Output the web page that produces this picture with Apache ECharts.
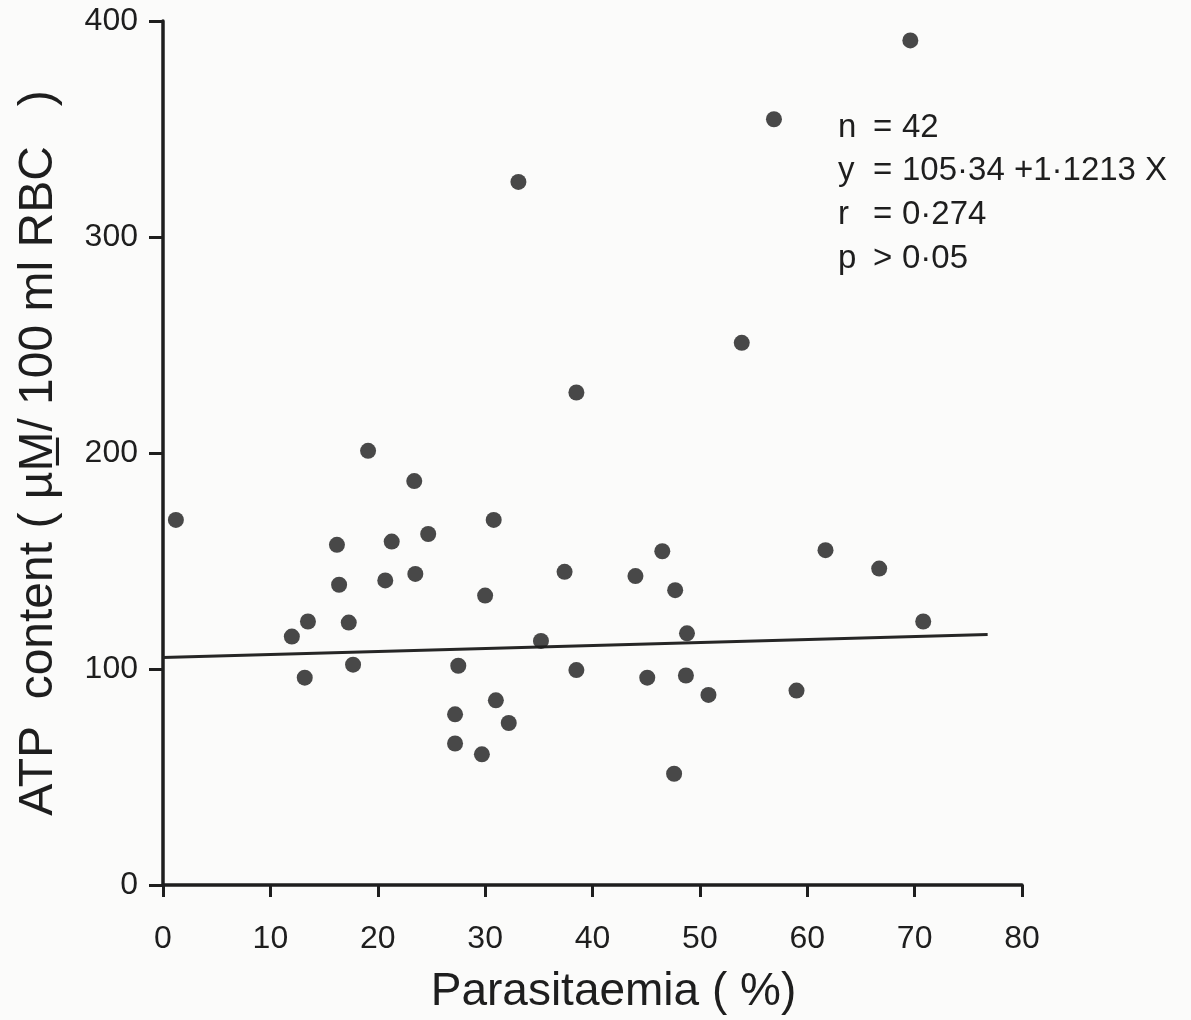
<!DOCTYPE html>
<html>
<head>
<meta charset="utf-8">
<title>ATP content vs Parasitaemia</title>
<script src="https://cdn.jsdelivr.net/npm/echarts@6/dist/echarts.min.js"></script>
<style>
  html, body { margin: 0; padding: 0; background: #fbfbfa; }
  #chart { width: 1191px; height: 1020px; }
</style>
</head>
<body>
<div id="chart"></div>
<script>
// Parasitaemia (%) for each of the 42 samples
const parasitaemia = [
  1.2, 12.0, 13.5, 13.2, 16.2, 16.4, 17.3, 17.7, 19.1, 20.7,
  21.3, 23.4, 23.5, 24.7, 27.2, 27.2, 27.5, 29.7, 30.0, 30.8,
  31.0, 32.2, 33.1, 35.2, 37.4, 38.5, 38.5, 44.0, 45.1, 46.5,
  47.7, 47.6, 48.7, 48.8, 50.8, 53.9, 56.9, 59.0, 61.7, 66.7,
  69.6, 70.8
];
// ATP content (µM / 100 ml RBC) for the same samples
const atpContent = [
  169, 115, 122, 96, 157.5, 139, 121.5, 102, 201, 141,
  159, 187, 144, 162.5, 79, 65.5, 101.5, 60.5, 134, 169,
  85.5, 75, 325.5, 113, 145, 228, 99.5, 143, 96, 154.5,
  136.5, 51.5, 97, 116.5, 88, 251, 354.5, 90, 155, 146.5,
  391, 122
];
// Fitted line as drawn across the plot
const fitX = [0, 76.8];
const fitY = [105.34, 116];

// Statistics block
const statKeys = ['n', 'y', 'r', 'p'];
const statOps = ['=', '=', '=', '>'];
const statVals = ['42', '105·34 +1·1213 X', '0·274', '0·05'];

const xTicks = [0, 10, 20, 30, 40, 50, 60, 70, 80];
const yTicks = [0, 100, 200, 300, 400];

const ink = '#1e1e1e';
const font = '"Liberation Sans", "DejaVu Sans", sans-serif';

const points = parasitaemia.map((x, i) => [x, atpContent[i]]);
const fitLine = fitX.map((x, i) => [x, fitY[i]]);

const statGraphics = [];
statKeys.forEach((k, i) => {
  const y = 111 + i * 43.7;
  statGraphics.push(
    { type: 'text', left: 838, top: y, style: { text: k, font: '33px ' + font, fill: ink } },
    { type: 'text', left: 873, top: y, style: { text: statOps[i], font: '33px ' + font, fill: ink } },
    { type: 'text', left: 902, top: y, style: { text: statVals[i], font: '33px ' + font, fill: ink } }
  );
});

const chart = echarts.init(document.getElementById('chart'));
chart.setOption({
  backgroundColor: '#fbfbfa',
  animation: false,
  grid: { left: 163, right: 169, top: 21, bottom: 133, containLabel: false },
  xAxis: {
    type: 'value',
    min: xTicks[0],
    max: xTicks[xTicks.length - 1],
    interval: 10,
    name: 'Parasitaemia ( %)',
    nameLocation: 'middle',
    nameGap: 84,
    nameTextStyle: { fontFamily: font, fontSize: 46, color: ink, padding: [0, 0, 0, 42] },
    axisLine: { show: true, lineStyle: { color: ink, width: 3.5 } },
    axisTick: { show: true, inside: false, length: 12, lineStyle: { color: ink, width: 3 } },
    axisLabel: { fontFamily: font, fontSize: 32, color: ink, margin: 38 },
    splitLine: { show: false }
  },
  yAxis: {
    type: 'value',
    min: yTicks[0],
    max: yTicks[yTicks.length - 1],
    interval: 100,
    name: 'ATP  content ( µM̲/ 100 ml RBC   )',
    nameLocation: 'middle',
    nameGap: 100,
    nameTextStyle: { fontFamily: font, fontSize: 48, color: ink },
    axisLine: { show: true, lineStyle: { color: ink, width: 3.5 } },
    axisTick: { show: true, inside: false, length: 14, lineStyle: { color: ink, width: 3 } },
    axisLabel: { fontFamily: font, fontSize: 32, color: ink, margin: 25 },
    splitLine: { show: false }
  },
  graphic: statGraphics,
  series: [
    {
      type: 'line',
      data: fitLine,
      symbol: 'none',
      lineStyle: { color: '#262626', width: 3 },
      z: 1
    },
    {
      type: 'scatter',
      data: points,
      symbol: 'circle',
      symbolSize: 16,
      itemStyle: { color: '#1c1c1c' },
      z: 2
    }
  ]
});
</script>
</body>
</html>
